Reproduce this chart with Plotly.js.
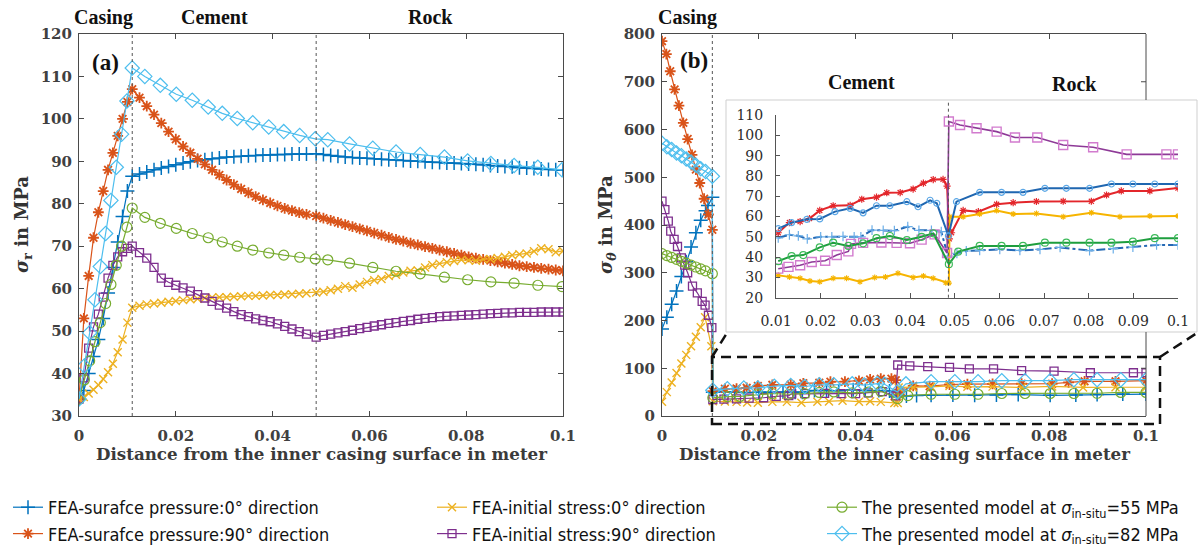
<!DOCTYPE html>
<html>
<head>
<meta charset="utf-8">
<script src="https://cdn.plot.ly/plotly-3.0.1.min.js"></script>
<style>html,body{margin:0;padding:0;background:#fff;}#chart{width:1200px;height:552px;}</style>
</head>
<body>
<div id="chart"></div>
<script>
// ---------------- Panel (a): radial stress ----------------
const xA_fea = [0,0.001,0.002,0.003,0.004,0.005,0.006,0.007,0.008,0.009,0.010,0.011,
  0.0125,0.014,0.0155,0.017,0.0185,0.02,0.0215,0.023,0.0245,0.026,0.0275,0.029,0.0305,0.032,0.0335,0.035,0.0365,0.038,0.0395,0.041,0.0425,0.044,0.0455,0.047,0.049,
  0.0505,0.052,0.0535,0.055,0.0565,0.058,0.0595,0.061,0.0625,0.064,0.0655,0.067,0.0685,0.07,0.0715,0.073,0.0745,0.076,0.0775,0.079,0.0805,0.082,0.0835,0.085,0.0865,0.088,0.0895,0.091,0.0925,0.094,0.0955,0.097,0.0985,0.1];
const yA_sp0 = [34,36,40,44,48,53,59,65,71,77,83,86.5,
  87,87.5,88,88.4,88.8,89.2,89.6,89.9,90.2,90.4,90.6,90.8,91,91.1,91.2,91.3,91.4,91.5,91.5,91.6,91.6,91.7,91.7,91.7,91.8,
  91.6,91.4,91.2,91.0,90.9,90.8,90.7,90.6,90.5,90.4,90.3,90.2,90.1,90.0,89.9,89.8,89.7,89.6,89.6,89.5,89.4,89.3,89.2,89.0,88.9,88.8,88.7,88.5,88.4,88.3,88.2,88.1,88.0,87.9];
const yA_sp90 = [34,53,63,72,78,83,88,92,96,100,104,107,
  105,103,101,99,97,95.2,93.5,92,90.6,89.3,88,86.8,85.6,84.5,83.5,82.6,81.7,80.9,80.2,79.5,78.9,78.4,77.9,77.5,77.1,
  76.6,76.1,75.6,75.1,74.6,74.1,73.6,73.1,72.6,72.1,71.6,71.2,70.7,70.3,69.9,69.5,69.1,68.7,68.3,67.9,67.5,67.2,66.9,66.6,66.3,66,65.7,65.4,65.2,65,64.8,64.6,64.4,64.2];
const yA_is0 = [34,34.5,35.3,36.2,37.3,38.7,40.3,42.3,45,48,52,55.5,
  56,56.3,56.5,56.7,56.9,57.1,57.3,57.5,57.6,57.8,57.9,58,58,58.1,58.2,58.3,58.3,58.4,58.5,58.5,58.6,58.7,58.8,58.9,59.1,
  59.3,59.6,60,60.6,60.2,61,61.6,62,62.3,63,63.3,63.8,64.2,64.3,65,65.6,65.9,66.2,66.5,66.8,66.7,66.6,66.9,67,67.2,67.5,67.9,68.1,68.3,68.8,69.5,69.3,68.6,68.9];
const yA_is90 = [34,39,46,51,54,58,62.5,65.5,67.5,68.7,69.5,70,
  68.5,67.2,65,62.5,61.5,60.8,60.2,59.4,58.6,57.8,57,56.1,55.4,54.6,53.9,53.4,52.9,52.5,52.2,51.7,51.1,50.5,49.9,49.3,48.6,
  49,49.3,49.6,49.9,50.2,50.6,50.9,51.2,51.5,51.8,52,52.3,52.5,52.8,53,53.2,53.4,53.5,53.6,53.7,53.8,53.9,54,54.1,54.2,54.3,54.3,54.4,54.4,54.4,54.5,54.5,54.5,54.5];
const xA_model = [0,0.0011,0.0022,0.0033,0.0044,0.0055,0.0066,0.0077,0.0088,0.0099,0.011,
  0.0136,0.0168,0.0201,0.0234,0.0267,0.0296,0.0327,0.0359,0.0392,0.0423,0.0456,0.0488,
  0.0514,0.0559,0.0607,0.0655,0.0705,0.0755,0.0803,0.0851,0.0899,0.0948,0.0998];
const yA_m55 = [34,38.5,43,47.5,52,56.5,61,65.5,70,74.5,79,
  76.8,75.4,74.2,73,72,71,70,69.1,68.4,67.9,67.4,67,
  66.8,66,65,64.1,63.5,62.7,62.1,61.6,61.3,60.8,60.5];
const yA_m82 = [34,41.8,49.6,57.4,65.2,73,80.8,88.6,96.4,104.2,112,
  110,107.9,105.8,104.4,102.8,101.3,100.1,99.1,98.1,97,96.1,95.3,
  95.1,94.1,93.1,92.2,91.6,91,90.1,89.5,89,88.6,88];

// ---------------- Panel (b): hoop stress, casing part ----------------
const xB_sp0 = [0,0.001,0.002,0.003,0.004,0.005,0.006,0.007,0.008,0.009,0.0095,0.0104];
const yB_sp0 = [182,207,234,262,292,323,354,384,410,430,441,458];
const xB_sp90 = [0,0.0009,0.0017,0.0026,0.0035,0.0044,0.0053,0.0062,0.007,0.0078,0.0087,0.0096,0.0104];
const yB_sp90 = [785,758,722,684,650,614,580,547,516,488,455,422,390];
const xB_is0 = [0,0.001,0.002,0.003,0.004,0.005,0.006,0.007,0.008,0.0089,0.0102];
const yB_is0 = [30,50,70,90,110,128,146,166,186,207,146];
const xB_is90 = [0,0.0006,0.0013,0.0018,0.0025,0.0032,0.004,0.0047,0.0053,0.0063,0.0073,0.0083,0.0089,0.0096,0.0103];
const yB_is90 = [450,432,408,387,370,355,331,316,300,272,258,240,232,211,185];
const xB_model = [0,0.001,0.002,0.003,0.004,0.005,0.006,0.007,0.008,0.009,0.0104];
const yB_m55 = [340,336,332,328,324,320,316,312,308,304,298];
const yB_m82 = [571,564,558,551,545,538,532,525,518,512,502];

// ---------------- Inset of (b): cement + rock ----------------
const xI_sp0 = [0.0105,0.013,0.015,0.017,0.02,0.0225,0.025,0.0275,0.029,0.0315,0.034,0.0365,0.0395,0.042,0.0448,0.047,0.0485,0.0505,0.0526,0.0556,0.0601,0.0646,0.0691,0.0736,0.0802,0.0855,0.0899,0.0952,0.1];
const yI_sp0 = [49.5,51,50.5,49,50,50,50.2,50,50,53.3,53.2,53,55,53.2,53.2,52.5,40.5,41.9,43,43.3,43.8,43.3,43.8,44.8,43.2,44.2,44.9,46,46];
const xI_sp90 = [0.0105,0.013,0.0154,0.0175,0.0198,0.0228,0.0266,0.0292,0.0325,0.0348,0.0378,0.0407,0.043,0.0452,0.0474,0.0483,0.0488,0.0493,0.0519,0.0553,0.0594,0.0631,0.0683,0.0743,0.0806,0.084,0.0873,0.0937,0.1];
const yI_sp90 = [52,57,57.5,59,63,65.3,65.5,68.5,69.5,71.7,71.8,73.5,76.4,78.2,78.3,75,49,52,63,62.4,66,66.8,67.4,67.5,67.5,70.6,72.6,72.6,74];
const xI_is0 = [0.0105,0.013,0.0154,0.0176,0.0198,0.0228,0.0258,0.0288,0.0321,0.0345,0.0373,0.0407,0.043,0.0452,0.048,0.0487,0.0489,0.0519,0.0556,0.0594,0.0631,0.0683,0.0743,0.0806,0.087,0.0937,0.1];
const yI_is0 = [31,30.2,29.6,28.2,27.9,29.6,29.6,27.9,30,30.2,32,30,30.7,29.6,27.4,27.2,59.9,59.9,61.2,62.9,61.2,61.5,59.9,61.9,59.9,60.2,60.2];
const xI_is90 = [0.0105,0.0128,0.0154,0.018,0.021,0.0236,0.0262,0.0268,0.0295,0.0336,0.037,0.04,0.0426,0.0455,0.0483,0.0487,0.0512,0.0549,0.0594,0.0635,0.0685,0.0743,0.081,0.0885,0.0974,0.1];
const yI_is90 = [34.3,35.2,36,37.6,38.2,41,42.8,46.5,47,47.2,47,46.8,48.6,51.2,42,106.8,105.1,103.5,101.8,98.9,98.9,95.2,94.1,90.6,90.6,90.6];
const xI_m55 = [0.0105,0.0135,0.0161,0.0198,0.0228,0.0262,0.0295,0.0325,0.0355,0.0393,0.0426,0.0452,0.0487,0.0508,0.0556,0.0605,0.0653,0.0702,0.075,0.0802,0.0851,0.0899,0.0948,0.1];
const yI_m55 = [38,40.5,41,44.8,47.1,45.5,46.8,49.3,50.4,48.4,50,51.7,36.5,42.7,45.5,45.5,45.5,47.1,47.1,47.1,47.1,47.6,49.3,49.3];
const xI_m82 = [0.0105,0.0135,0.0169,0.0198,0.0232,0.0266,0.0295,0.0325,0.0355,0.0393,0.0418,0.0445,0.046,0.0486,0.0504,0.0556,0.0605,0.0653,0.0702,0.075,0.0802,0.0851,0.0899,0.0948,0.1];
const yI_m82 = [54,57,58.6,58.8,62.4,64,61.8,65.3,65.3,67.3,64.8,68,66.5,50.5,67.3,71.9,71.9,71.9,73.9,73.9,73.9,76,76,76,76];

// ---------------- ticks / labels ----------------
const xTicks = [0,0.02,0.04,0.06,0.08,0.1];
const xTickText = ['0','0.02','0.04','0.06','0.08','0.1'];
const aYTicks = [30,40,50,60,70,80,90,100,110,120];
const bYTicks = [0,100,200,300,400,500,600,700,800];
const iXTicks = [0.01,0.02,0.03,0.04,0.05,0.06,0.07,0.08,0.09,0.1];
const iXText = ['0.01','0.02','0.03','0.04','0.05','0.06','0.07','0.08','0.09','0.1'];
const iYTicks = [20,30,40,50,60,70,80,90,100,110];
const seriesNames = [
  'FEA-surafce pressure:0° direction',
  'FEA-surafce pressure:90° direction',
  'FEA-initial stress:0° direction',
  'FEA-initial stress:90° direction',
  'The presented model at <i>σ</i><sub>in-situ</sub>=55 MPa',
  'The presented model at <i>σ</i><sub>in-situ</sub>=82 MPa'
];
const interfaceA = [0.011, 0.049];
const interfaceB = 0.0104;
const interfaceI = 0.0486;

// ---------------- styles ----------------
const W = 1200, H = 552;
const px = v => v / W;
const py = v => 1 - v / H;
const styles = [
  {c:'#0072BD', sym:'cross-thin-open', s:10, lw:1.5},
  {c:'#D95319', sym:'asterisk-open', s:9, lw:1.8},
  {c:'#EDB120', sym:'x-thin-open', s:8, lw:1.4},
  {c:'#7E2F8E', sym:'square-open', s:8, lw:1.3},
  {c:'#77AC30', sym:'circle-open', s:10, lw:1.2},
  {c:'#4DBEEE', sym:'diamond-open', s:11, lw:1.2}
];
const legendOf = ['legend','legend','legend2','legend2','legend3','legend3'];
const aX = [xA_fea, xA_fea, xA_fea, xA_fea, xA_model, xA_model];
const aY = [yA_sp0, yA_sp90, yA_is0, yA_is90, yA_m55, yA_m82];
const bX = [xB_sp0.concat(xI_sp0), xB_sp90.concat(xI_sp90), xB_is0.concat(xI_is0), xB_is90.concat(xI_is90), xB_model.concat(xI_m55), xB_model.concat(xI_m82)];
const bY = [yB_sp0.concat(yI_sp0), yB_sp90.concat(yI_sp90), yB_is0.concat(yI_is0), yB_is90.concat(yI_is90), yB_m55.concat(yI_m55), yB_m82.concat(yI_m82)];
const iX = [xI_sp0, xI_sp90, xI_is0, xI_is90, xI_m55, xI_m82];
const iY = [yI_sp0, yI_sp90, yI_is0, yI_is90, yI_m55, yI_m82];
const insetStyles = [
  {lc:'#2468B4', dash:'dashdot', lw:2, mc:'#6AAEE8', sym:'cross-thin-open', s:7, mlw:1.2},
  {lc:'#E3262B', dash:'solid', lw:2, mc:'#E3262B', sym:'asterisk-open', s:6, mlw:1.2},
  {lc:'#F6B400', dash:'solid', lw:2, mc:'#F6B400', sym:'asterisk-open', s:5, mlw:1.1},
  {lc:'#8E3A97', dash:'solid', lw:1.6, mc:'#D27BCE', sym:'square-open', s:9, mlw:1.4},
  {lc:'#1E9E3E', dash:'solid', lw:2, mc:'#3DBA5A', sym:'circle-open', s:7, mlw:1.2},
  {lc:'#1F66B0', dash:'solid', lw:2, mc:'#5BA7E6', sym:'circle-open', s:6, mlw:1.2}
];

const traces = [];
for (let i = 0; i < 6; i++) {
  const st = styles[i];
  traces.push({x:aX[i], y:aY[i], xaxis:'x', yaxis:'y', type:'scatter', mode:'lines+markers',
    name:seriesNames[i], legend:legendOf[i], showlegend:true,
    line:{color:st.c, width:1.2},
    marker:{symbol:st.sym, size:st.s, color:st.c, line:{color:st.c, width:st.lw}}});
}
for (let i = 0; i < 6; i++) {
  const st = styles[i];
  traces.push({x:bX[i], y:bY[i], xaxis:'x2', yaxis:'y2', type:'scatter', mode:'lines+markers',
    showlegend:false, line:{color:st.c, width:1.2},
    marker:{symbol:st.sym, size:st.s, color:st.c, line:{color:st.c, width:st.lw}}});
}
for (let i = 0; i < 6; i++) {
  const st = insetStyles[i];
  traces.push({x:iX[i], y:iY[i], xaxis:'x3', yaxis:'y3', type:'scatter', mode:'lines+markers',
    showlegend:false, line:{color:st.lc, width:st.lw, dash:st.dash},
    marker:{symbol:st.sym, size:st.s, color:st.mc, line:{color:st.mc, width:st.mlw}}});
}

const axisColor = '#4a4a4a';
const tickFont = {family:'DejaVu Serif', size:15, color:'#404040', weight:'bold'};
const insetFont = {family:'DejaVu Serif', size:14, color:'#2a2a2a'};
const baseAx = {showgrid:false, zeroline:false, showline:true, linecolor:axisColor, linewidth:1,
  ticks:'inside', ticklen:5, tickcolor:axisColor, tickfont:tickFont, fixedrange:true};

const yDom = [py(416), py(34)];
const legFont = {family:'Liberation Sans Narrow, DejaVu Sans Condensed, Roboto Condensed, Liberation Sans, sans-serif', size:18, color:'#111'};
const ann = (text, x, y, size, extra) => Object.assign({text:text, x:px(x), y:py(y), xref:'paper', yref:'paper',
  xanchor:'center', yanchor:'middle', showarrow:false, font:{family:'Liberation Serif', size:size, color:'#111'}}, extra || {});
const layout = {
  width:W, height:H, autosize:false,
  margin:{l:0, r:0, t:0, b:0},
  paper_bgcolor:'#ffffff', plot_bgcolor:'#ffffff',
  font:{family:'DejaVu Serif', color:'#333'},
  xaxis:Object.assign({}, baseAx, {domain:[px(79), px(563)], range:[0,0.1], tickvals:xTicks, ticktext:xTickText, mirror:'ticks', anchor:'y', ticklabelstandoff:6}),
  yaxis:Object.assign({}, baseAx, {domain:yDom, range:[30,120], tickvals:aYTicks, mirror:'ticks', anchor:'x', ticklabelstandoff:3}),
  xaxis2:Object.assign({}, baseAx, {domain:[px(662), px(1146)], range:[0,0.1], tickvals:xTicks, ticktext:xTickText, mirror:'ticks', anchor:'y2', ticklabelstandoff:6}),
  yaxis2:Object.assign({}, baseAx, {domain:yDom, range:[0,800], tickvals:bYTicks, mirror:false, anchor:'x2', ticklabelstandoff:3}),
  xaxis3:Object.assign({}, baseAx, {domain:[px(776), px(1178)], range:[0.01,0.1], tickvals:iXTicks, ticktext:iXText, tickfont:insetFont, ticklen:5, anchor:'y3', linecolor:'#555', tickcolor:'#555', ticklabelstandoff:10}),
  yaxis3:Object.assign({}, baseAx, {domain:[py(297.7), py(115)], range:[20,110], tickvals:iYTicks, tickfont:insetFont, ticklen:4, anchor:'x3', linecolor:'#555', tickcolor:'#555', ticklabelstandoff:9}),
  showlegend:true,
  legend:{x:px(8), y:py(489), xanchor:'left', yanchor:'top', bgcolor:'rgba(0,0,0,0)', tracegroupgap:0, font:legFont},
  legend2:{x:px(432), y:py(489), xanchor:'left', yanchor:'top', bgcolor:'rgba(0,0,0,0)', tracegroupgap:0, font:legFont},
  legend3:{x:px(822), y:py(489), xanchor:'left', yanchor:'top', bgcolor:'rgba(0,0,0,0)', tracegroupgap:0, font:legFont},
  shapes:[
    {type:'rect', xref:'paper', yref:'paper', x0:px(726), x1:px(1197), y0:py(332), y1:py(100), fillcolor:'#ffffff', line:{color:'#cfcfcf', width:1}, layer:'below'},
    {type:'line', xref:'paper', yref:'paper', x0:px(1146), x1:px(1146), y0:py(34), y1:py(100), line:{color:axisColor, width:1}},
    {type:'line', xref:'paper', yref:'paper', x0:px(1146), x1:px(1146), y0:py(332), y1:py(416), line:{color:axisColor, width:1}},
    {type:'line', xref:'paper', yref:'y2', x0:px(1141), x1:px(1146), y0:700, y1:700, line:{color:axisColor, width:1}},
    {type:'line', xref:'paper', yref:'y2', x0:px(1141), x1:px(1146), y0:100, y1:100, line:{color:axisColor, width:1}},
    {type:'line', xref:'x', yref:'y domain', x0:interfaceA[0], x1:interfaceA[0], y0:0, y1:1, line:{color:'#555', width:1, dash:'dot'}},
    {type:'line', xref:'x', yref:'y domain', x0:interfaceA[1], x1:interfaceA[1], y0:0, y1:1, line:{color:'#555', width:1, dash:'dot'}},
    {type:'line', xref:'x2', yref:'y2 domain', x0:interfaceB, x1:interfaceB, y0:0, y1:1, line:{color:'#555', width:1, dash:'dot'}},
    {type:'line', xref:'x3', yref:'paper', x0:interfaceI, x1:interfaceI, y0:py(297.7), y1:py(101), line:{color:'#555', width:1, dash:'dot'}},
    {type:'rect', xref:'paper', yref:'paper', x0:px(712), x1:px(1160), y0:py(424), y1:py(357), line:{color:'#111', width:2.5, dash:'10px,6px'}, layer:'above'},
    {type:'line', xref:'paper', yref:'paper', x0:px(712), x1:px(727), y0:py(357), y1:py(333), line:{color:'#111', width:2.5, dash:'10px,6px'}},
    {type:'line', xref:'paper', yref:'paper', x0:px(1160), x1:px(1197), y0:py(357), y1:py(333), line:{color:'#111', width:2.5, dash:'10px,6px'}}
  ],
  annotations:[
    ann('<b>Casing</b>', 103, 17, 20),
    ann('<b>Cement</b>', 214, 17, 20),
    ann('<b>Rock</b>', 430, 17, 20),
    ann('<b>(a)</b>', 105, 62, 23),
    ann('<b>Casing</b>', 687, 17, 20),
    ann('<b>(b)</b>', 694, 60, 23),
    ann('<b>Cement</b>', 861, 82, 20),
    ann('<b>Rock</b>', 1074, 84, 20),
    ann('<i>σ</i><sub>r</sub> in MPa', 23, 225, 18, {textangle:-90, font:{family:'DejaVu Serif', size:18, color:'#333', weight:'bold'}}),
    ann('<i>σ</i><sub><i>θ</i></sub> in MPa', 607, 225, 18, {textangle:-90, font:{family:'DejaVu Serif', size:18, color:'#333', weight:'bold'}}),
    ann('Distance from the inner casing surface in meter', 321, 454, 16.7, {font:{family:'DejaVu Serif', size:16.7, color:'#3a3a3a', weight:'bold'}}),
    ann('Distance from the inner casing surface in meter', 904, 454, 16.7, {font:{family:'DejaVu Serif', size:16.7, color:'#3a3a3a', weight:'bold'}})
  ]
};

Plotly.newPlot('chart', traces, layout, {staticPlot:true, displayModeBar:false});
</script>
</body>
</html>
